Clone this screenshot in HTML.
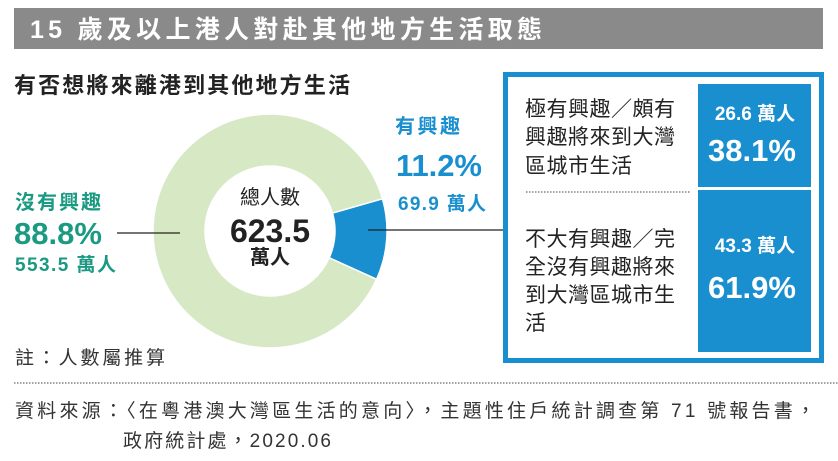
<!DOCTYPE html>
<html><head><meta charset="utf-8"><style>
html,body{margin:0;padding:0;background:#fff;}
svg{display:block;font-family:"Liberation Sans","Noto Sans CJK TC",sans-serif;}
</style></head><body>
<svg width="838" height="461" viewBox="0 0 838 461">
<rect x="14" y="8" width="809" height="41" fill="#8a8a8a"/>
<text x="30" y="38" font-size="25" font-weight="bold" fill="#fff" textLength="512">15 歲及以上港人對赴其他地方生活取態</text>
<text x="14" y="93" font-size="22" font-weight="bold" fill="#222" textLength="336">有否想將來離港到其他地方生活</text>

<g id="donut"></g>

<line x1="117" y1="233" x2="180" y2="233" stroke="#222" stroke-width="1.2"/>
<line x1="368" y1="230" x2="505" y2="230" stroke="#222" stroke-width="1.2"/>

<g fill="#1a9a82" font-weight="bold">
<text x="15" y="209" font-size="20" textLength="86">沒有興趣</text>
<text x="14" y="244" font-size="31" textLength="88">88.8%</text>
<text x="15" y="271" font-size="19" textLength="101">553.5 萬人</text>
</g>
<g fill="#1a8fd0" font-weight="bold">
<text x="395" y="133" font-size="20" textLength="65">有興趣</text>
<text x="396" y="176" font-size="31" textLength="86">11.2%</text>
<text x="398" y="210" font-size="19" textLength="88">69.9 萬人</text>
</g>
<g text-anchor="middle" fill="#222">
<text x="270" y="204" font-size="20">總人數</text>
<text x="270" y="242" font-size="32" font-weight="bold">623.5</text>
<text x="270" y="264" font-size="20" font-weight="bold">萬人</text>
</g>

<rect x="505.5" y="74.5" width="316" height="286" fill="none" stroke="#1a8fd0" stroke-width="5"/>
<rect x="698" y="84" width="113" height="103" fill="#1a8fd0"/>
<rect x="698" y="190" width="113" height="162" fill="#1a8fd0"/>
<line x1="526" y1="192" x2="690" y2="192" stroke="#444" stroke-width="1" stroke-dasharray="1.5,1.5"/>
<g fill="#222" font-size="21">
<text x="525" y="116" textLength="150">極有興趣／頗有</text>
<text x="525" y="144" textLength="150">興趣將來到大灣</text>
<text x="525" y="173" textLength="107">區城市生活</text>
</g>
<g fill="#222" font-size="21">
<text x="525" y="246" textLength="150">不大有興趣／完</text>
<text x="525" y="274" textLength="150">全沒有興趣將來</text>
<text x="525" y="302" textLength="150">到大灣區城市生</text>
<text x="525" y="330">活</text>
</g>
<g fill="#fff" font-weight="bold" text-anchor="middle">
<text x="755" y="120" font-size="19">26.6 萬人</text>
<text x="752" y="161" font-size="31">38.1%</text>
<text x="755" y="252" font-size="19">43.3 萬人</text>
<text x="752" y="298" font-size="31">61.9%</text>
</g>

<text x="15" y="364" font-size="19" fill="#333" textLength="150">註：人數屬推算</text>
<line x1="14" y1="383" x2="838" y2="383" stroke="#444" stroke-width="1" stroke-dasharray="1.5,1.5"/>
<text x="15" y="417" font-size="19" fill="#333" textLength="800">資料來源：〈在粵港澳大灣區生活的意向〉，主題性住戶統計調查第 71 號報告書，</text>
<text x="123" y="447" font-size="19" fill="#333" textLength="208">政府統計處，2020.06</text>
</svg>
<script>
const categories = ["有興趣", "沒有興趣"];
const values = [69.9, 553.5];
const sliceColors = ["#1a8fd0", "#d7e8c5"];
const cx = 270, cy = 231, rOuter = 117, rInner = 65;
const startDeg = -16;
const total = values.reduce((a, b) => a + b, 0);
const g = document.getElementById('donut');
function pt(r, deg) { const a = deg * Math.PI / 180; return [cx + r * Math.cos(a), cy + r * Math.sin(a)]; }
let a0 = startDeg;
values.forEach((v, i) => {
  const sweep = v / total * 360;
  const a1 = a0 + sweep;
  const large = sweep > 180 ? 1 : 0;
  const [x1, y1] = pt(rOuter, a0), [x2, y2] = pt(rOuter, a1);
  const [x3, y3] = pt(rInner, a1), [x4, y4] = pt(rInner, a0);
  const p = document.createElementNS('http://www.w3.org/2000/svg', 'path');
  p.setAttribute('d', `M${x1},${y1} A${rOuter},${rOuter} 0 ${large} 1 ${x2},${y2} L${x3},${y3} A${rInner},${rInner} 0 ${large} 0 ${x4},${y4} Z`);
  p.setAttribute('fill', sliceColors[i]);
  p.setAttribute('stroke', '#fff');
  p.setAttribute('stroke-width', '1.5');
  
  
  g.appendChild(p);
  a0 = a1;
});
</script>
</body></html>
